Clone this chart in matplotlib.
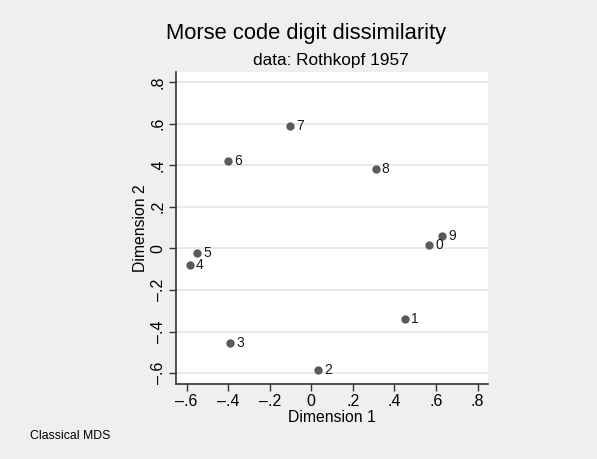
import matplotlib
matplotlib.use("Agg")
import matplotlib.pyplot as plt
from matplotlib.ticker import FixedLocator, FuncFormatter

labels = ["0", "1", "2", "3", "4", "5", "6", "7", "8", "9"]
dim1 = [0.566, 0.452, 0.033, -0.392, -0.584, -0.550, -0.400, -0.100, 0.309, 0.628]
dim2 = [0.014, -0.340, -0.587, -0.454, -0.079, -0.021, 0.418, 0.589, 0.383, 0.059]
ticks = [-0.6, -0.4, -0.2, 0, 0.2, 0.4, 0.6, 0.8]

plt.rcParams['font.family'] = ['Liberation Sans', 'DejaVu Sans']
bg = '#efefef'
fig = plt.figure(figsize=(5.97, 4.59), dpi=100, facecolor=bg)
ax = fig.add_axes([175.5/597, 1-384/459, (488-175.5)/597, (384-72)/459])
ax.set_facecolor('white')

ax.scatter(dim1, dim2, s=36, color='#5a5a5a', zorder=3, linewidths=0)
for x, y, t in zip(dim1, dim2, labels):
    ax.annotate(t, (x, y), xytext=(4.5, 0), textcoords='offset points',
                ha='left', va='center', fontsize=10, color='#1a1a1a')

ax.set_xlim(-0.653, 0.85)
ax.set_ylim(-0.652, 0.848)

def fmt(v, pos):
    if abs(v) < 1e-9:
        return "0"
    s = ("%.1f" % abs(v)).lstrip("0")
    return ("\u2013" if v < 0 else "") + s

ax.xaxis.set_major_locator(FixedLocator(ticks))
ax.yaxis.set_major_locator(FixedLocator(ticks))
ax.xaxis.set_major_formatter(FuncFormatter(fmt))
ax.yaxis.set_major_formatter(FuncFormatter(fmt))
ax.tick_params(axis='both', direction='out', length=5, width=1, color='#333333',
               labelsize=11.5, labelcolor='black', pad=2)
for lab in ax.get_yticklabels():
    lab.set_rotation(90)
    lab.set_va('center')

ax.yaxis.grid(True, color='#e6e6e6', linewidth=1.2, zorder=0)
ax.set_axisbelow(True)
for s in ['top', 'right']:
    ax.spines[s].set_visible(False)
for s in ['left', 'bottom']:
    ax.spines[s].set_color('#333333')
    ax.spines[s].set_linewidth(1.2)

ax.set_xlabel("Dimension 1", fontsize=11.3, labelpad=1)
ax.set_ylabel("Dimension 2", fontsize=11.3, labelpad=2)

fig.text(306/597, 1-33/459, "Morse code digit dissimilarity", ha='center', va='center', fontsize=15.8)
fig.text(331/597, 1-60/459, "data: Rothkopf 1957", ha='center', va='center', fontsize=12.4)
fig.text(30/597, 1-436/459, "Classical MDS", ha='left', va='center', fontsize=8.8)

fig.savefig("out.png", dpi=100, facecolor=bg)
